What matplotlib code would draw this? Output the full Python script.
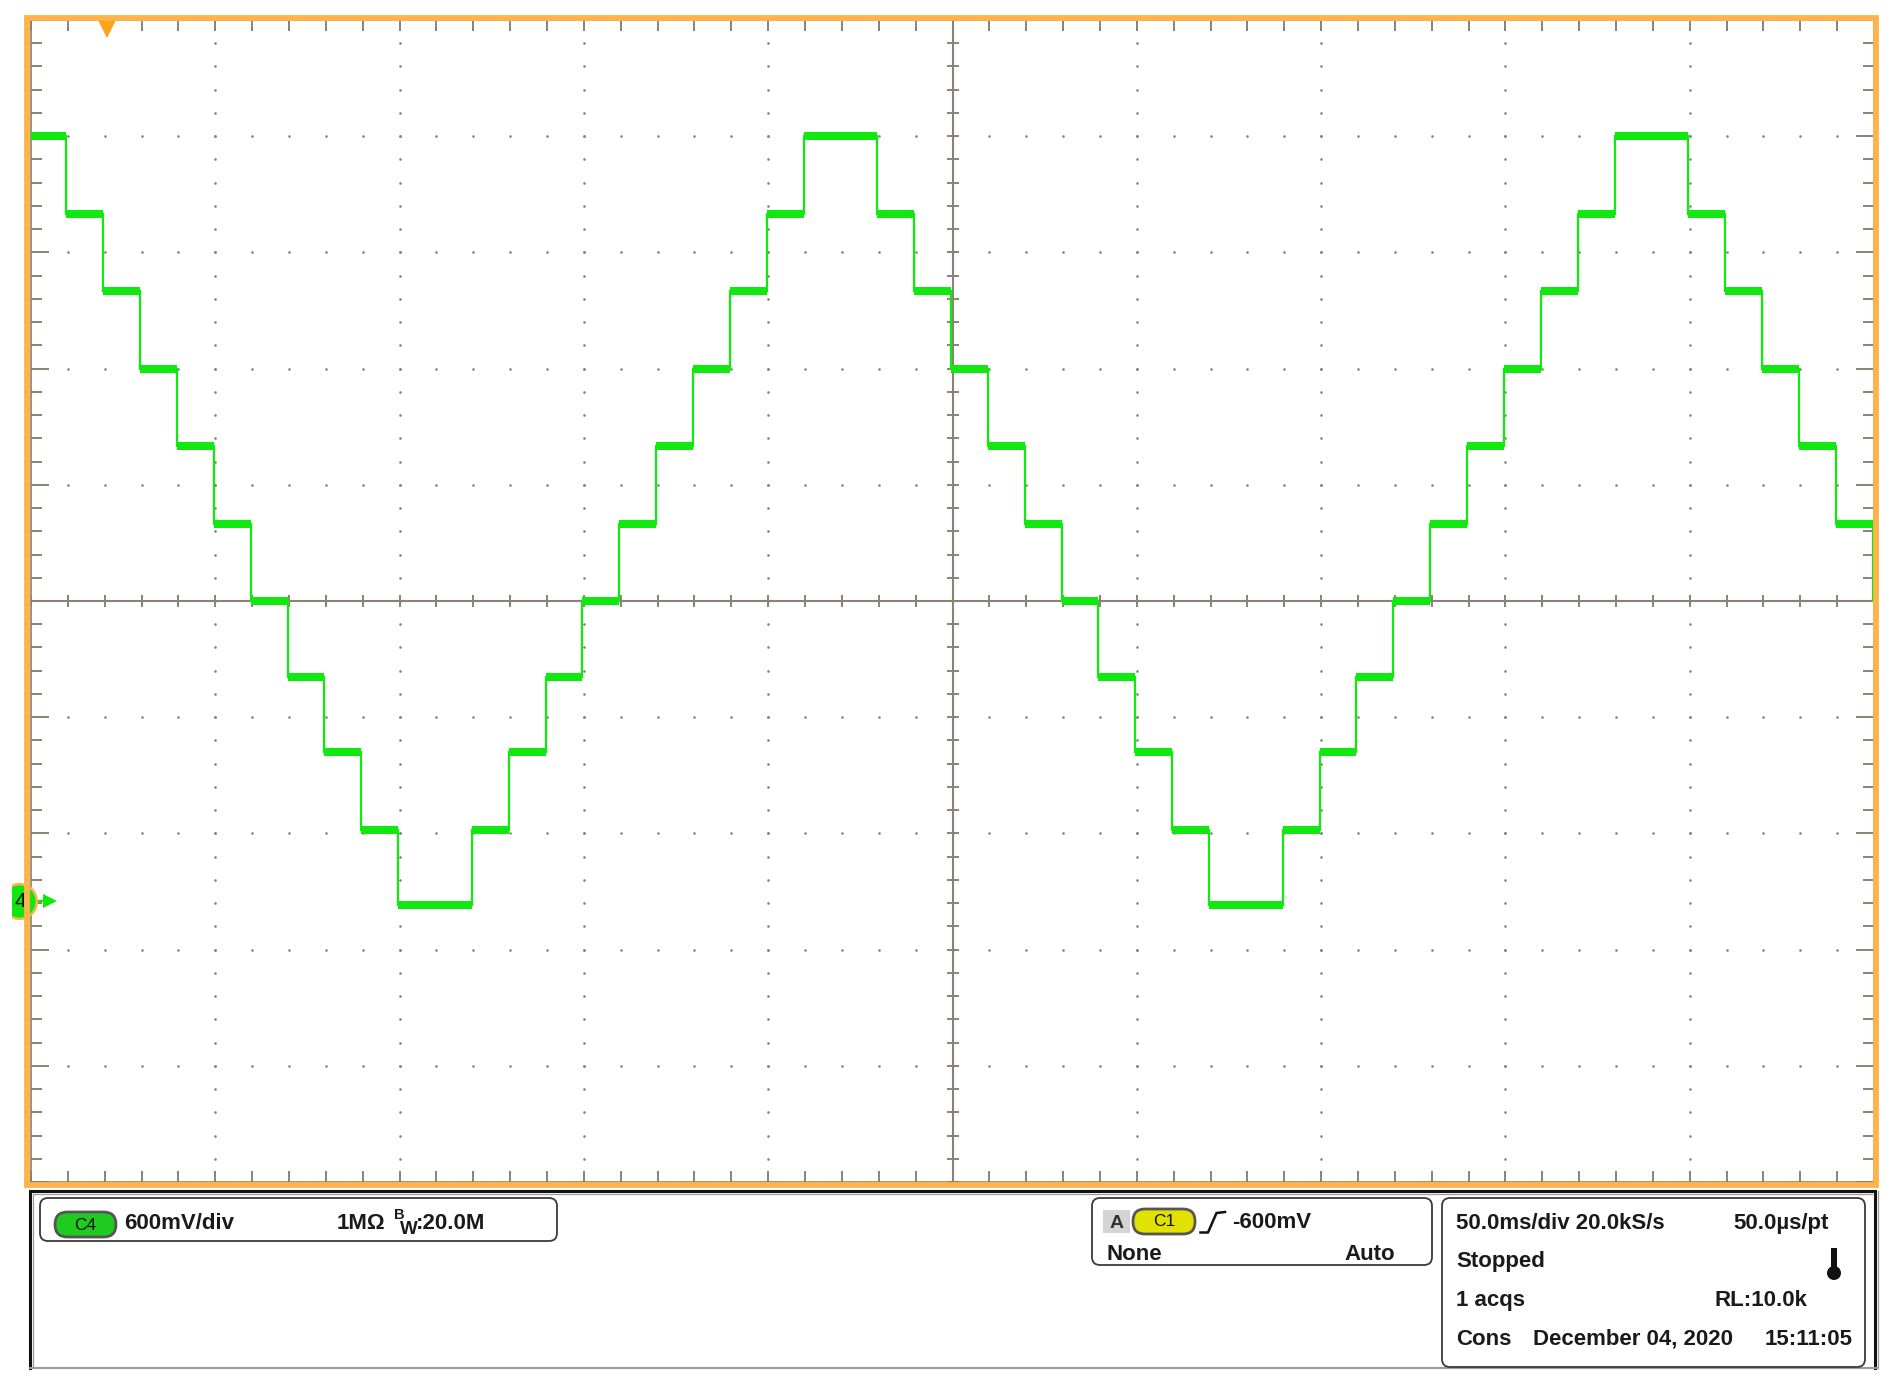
import numpy as np
import matplotlib
matplotlib.use('Agg')
import matplotlib.pyplot as plt
from matplotlib.patches import Rectangle, FancyBboxPatch, Circle

plt.rcParams['font.family'] = ['Liberation Sans', 'DejaVu Sans']

# --- scope settings / data ---
volts_per_div = 0.6
ms_per_div = 50.0
screen_center_v = 1.55      # volts at the centre graticule line
trigger_ms = 20.6
dac_step_ms = 10.0
first_edge_ms = 9.6

# DAC output levels (V) for codes 0..10
dac_levels_v = [-0.02, 0.37, 0.77, 1.16, 1.55, 1.95, 2.35, 2.75, 3.15, 3.55, 3.95]
# code held in each 10 ms slot across the screen
dac_codes = [10,
             9, 8, 7, 6, 5, 4, 3, 2, 1, 0, 0,
             1, 2, 3, 4, 5, 6, 7, 8, 9, 10, 10,
             9, 8, 7, 6, 5, 4, 3, 2, 1, 0, 0,
             1, 2, 3, 4, 5, 6, 7, 8, 9, 10, 10,
             9, 8, 7, 6, 5, 4]

# readout texts
ch_scale = '600mV/div'
ch_impedance = '1M\u03a9'
ch_bw = ':20.0M'
trig_source = 'C1'
trig_level = '-600mV'
trig_coupling = 'None'
trig_mode = 'Auto'
tb_line1 = ('50.0ms/div 20.0kS/s', '50.0\u00b5s/pt')
tb_state = 'Stopped'
tb_acqs = ('1 acqs', 'RL:10.0k')
tb_stamp = ('Cons', 'December 04, 2020', '15:11:05')

# colours
grid_c = '#8a8272'
trace_c = '#10e810'
frame_orange = '#fdb44b'
trig_orange = '#ffa31a'

W, H = 1895, 1380
fig = plt.figure(figsize=(W / 100, H / 100), dpi=100)
fig.patch.set_facecolor('white')

gx0, gx1, gy0, gy1 = 31, 1874, 20, 1182
ax = fig.add_axes([gx0 / W, 1 - gy1 / H, (gx1 - gx0) / W, (gy1 - gy0) / H])
gw, gh = gx1 - gx0, gy1 - gy0

t_hi = 10 * ms_per_div
v_lo = screen_center_v - 5 * volts_per_div
v_hi = screen_center_v + 5 * volts_per_div
ax.set_xlim(0, t_hi)
ax.set_ylim(v_lo, v_hi)

xmaj = np.arange(0, 11) * ms_per_div
xmin = np.arange(0, 51) * ms_per_div / 5
ymaj = screen_center_v + volts_per_div * np.arange(-5, 6)
ymin = screen_center_v + volts_per_div / 5 * np.arange(-25, 26)
ax.set_xticks(xmaj)
ax.set_xticks(xmin, minor=True)
ax.set_yticks(ymaj)
ax.set_yticks(ymin, minor=True)
ax.tick_params(axis='x', which='both', direction='in', length=8, width=1.4,
               color=grid_c, top=True, bottom=True, labelbottom=False)
ax.tick_params(axis='y', which='major', direction='in', length=13, width=1.4,
               color=grid_c, left=True, right=True, labelleft=False)
ax.tick_params(axis='y', which='minor', direction='in', length=8, width=1.4,
               color=grid_c, left=True, right=True)
for s in ax.spines.values():
    s.set_color(grid_c)
    s.set_linewidth(1.2)

# dotted graticule
t_mid = 5 * ms_per_div
vx = [x for x in xmaj[1:-1] if not np.isclose(x, t_mid)]
hy = [y for y in ymaj[1:-1] if not np.isclose(y, screen_center_v)]
XX, YY = np.meshgrid(vx, ymin[1:-1])
ax.plot(XX.ravel(), YY.ravel(), ls='', marker='o', ms=1.9, color=grid_c, mew=0)
XX, YY = np.meshgrid(xmin[1:-1], hy)
ax.plot(XX.ravel(), YY.ravel(), ls='', marker='o', ms=1.9, color=grid_c, mew=0)

# centre cross with minor ticks
ax.axhline(screen_center_v, color=grid_c, lw=1.5)
ax.axvline(t_mid, color=grid_c, lw=1.5)
ax.plot(xmin, np.full(len(xmin), screen_center_v), ls='', marker='|', ms=8.5,
        mew=1.4, color=grid_c)
ax.plot(np.full(len(ymin), t_mid), ymin, ls='', marker='_', ms=8.5,
        mew=1.4, color=grid_c)

# stepped trace
edges = first_edge_ms + dac_step_ms * np.arange(len(dac_codes))
bounds = np.r_[0, edges[:-1], t_hi]
levels = np.array(dac_levels_v)[dac_codes]
ax.stairs(levels, bounds, baseline=None, color=trace_c, lw=1.6, zorder=4)
ax.hlines(levels, bounds[:-1], bounds[1:], color=trace_c, lw=5.8,
          capstyle='butt', zorder=4)

# trigger position marker
ax.plot([trigger_ms], [1 - 9 / gh], transform=ax.get_xaxis_transform(),
        marker='v', ms=12.5, color=trig_orange, mew=0, clip_on=False, zorder=6)


# channel 4 ground marker
def fx(px):
    return (px - gx0) / gw


yt = ax.get_yaxis_transform()
ax.plot([fx(36), fx(46)], [0, 0], transform=yt, color=trace_c, lw=1.6,
        clip_on=False, zorder=6)
ax.plot([fx(50)], [0], transform=yt, marker='>', ms=10.5, color=trace_c,
        mew=0, clip_on=False, zorder=6)

# overlay in pixel coordinates for the frame and readout panel
ov = fig.add_axes([0, 0, 1, 1])
ov.set_xlim(0, W)
ov.set_ylim(H, 0)
ov.axis('off')

ch_dot, = ax.plot([fx(18.5)], [0], transform=yt, marker='o', ms=25,
                  color='#12e612', mec=frame_orange, mew=1.8, zorder=7)
ch_dot.set_clip_path(Rectangle((12, 0), W, H, transform=ov.transData))
ax.text(fx(20.5), 0, '4', transform=yt, ha='center', va='center', fontsize=15,
        color='#111111', clip_on=False, zorder=8)

ov.add_patch(Rectangle((26.5, 17.5), 1876 - 26.5, 1184.5 - 17.5, fill=False,
                       ec=frame_orange, lw=4.2, zorder=1))

# panel frame
ov.plot([30, 30, 1875, 1875], [1368, 1191, 1191, 1368], color='#111111',
        lw=2.2, solid_joinstyle='miter')
ov.plot([33, 33, 1872], [1368, 1194, 1194], color='#9a9a9a', lw=0.9)
ov.plot([1878, 1878], [1191, 1368], color='#9a9a9a', lw=0.9)
ov.plot([30, 1878], [1368, 1368], color='#9a9a9a', lw=1.5)


def rbox(x0, y0, x1, y1, r=8, fc='none', ec='#3a3a3a', lw=1.3, z=2):
    ov.add_patch(FancyBboxPatch((x0, y0), x1 - x0, y1 - y0,
                                boxstyle=f'round,pad=0,rounding_size={r}',
                                fc=fc, ec=ec, lw=lw, zorder=z))


txt = dict(fontsize=16, fontweight='bold', color='#1a1a1a', va='baseline')

# channel box
rbox(40, 1198, 557, 1241)
rbox(55, 1212, 116, 1237, r=12.5, fc='#1fcb1f', ec='#555555', lw=2.0, z=3)
ov.text(85.5, 1225, 'C4', ha='center', va='center', fontsize=12.5,
        color='#111111', zorder=4)
ov.text(124, 1229, ch_scale, **txt)
ov.text(337, 1229, ch_impedance, **txt)
ov.text(394, 1219, 'B', fontsize=10.5, fontweight='bold', color='#1a1a1a',
        va='baseline')
ov.text(400, 1234, 'W', fontsize=13.5, fontweight='bold', color='#1a1a1a',
        va='baseline')
ov.text(416, 1229, ch_bw, **txt)

# trigger box
rbox(1092, 1198, 1432, 1265)
ov.add_patch(Rectangle((1103, 1210), 27, 23, fc='#d4d4d4', ec='none', zorder=3))
ov.text(1116.5, 1228, 'A', ha='center', fontsize=14, fontweight='bold',
        color='#333333', va='baseline', zorder=4)
rbox(1133, 1209, 1195, 1234, r=12, fc='#e2e200', ec='#555555', lw=2.0, z=3)
ov.text(1164, 1222, trig_source, ha='center', va='center', fontsize=12.5,
        color='#111111', zorder=4)
ov.plot([1200.5, 1208, 1216.5, 1225], [1232.5, 1232.5, 1213, 1212],
        color='#111111', lw=1.8)
ov.text(1232, 1228, trig_level, **txt)
ov.text(1107, 1260, trig_coupling, **txt)
ov.text(1395, 1260, trig_mode, ha='right', **txt)

# timebase / acquisition box
rbox(1442, 1198, 1865, 1367)
ov.text(1456, 1229, tb_line1[0], **txt)
ov.text(1829, 1229, tb_line1[1], ha='right', **txt)
ov.text(1456, 1267, tb_state, **txt)
ov.add_patch(Rectangle((1831, 1248), 6, 24, fc='#111111', ec='none', zorder=3))
ov.add_patch(Circle((1834, 1273), 7, fc='#111111', ec='none', zorder=3))
ov.text(1456, 1306, tb_acqs[0], **txt)
ov.text(1807, 1306, tb_acqs[1], ha='right', **txt)
ov.text(1456, 1345, tb_stamp[0], **txt)
ov.text(1533, 1345, tb_stamp[1], **txt)
ov.text(1853, 1345, tb_stamp[2], ha='right', **txt)

fig.savefig('out.png', dpi=100, facecolor='white')
